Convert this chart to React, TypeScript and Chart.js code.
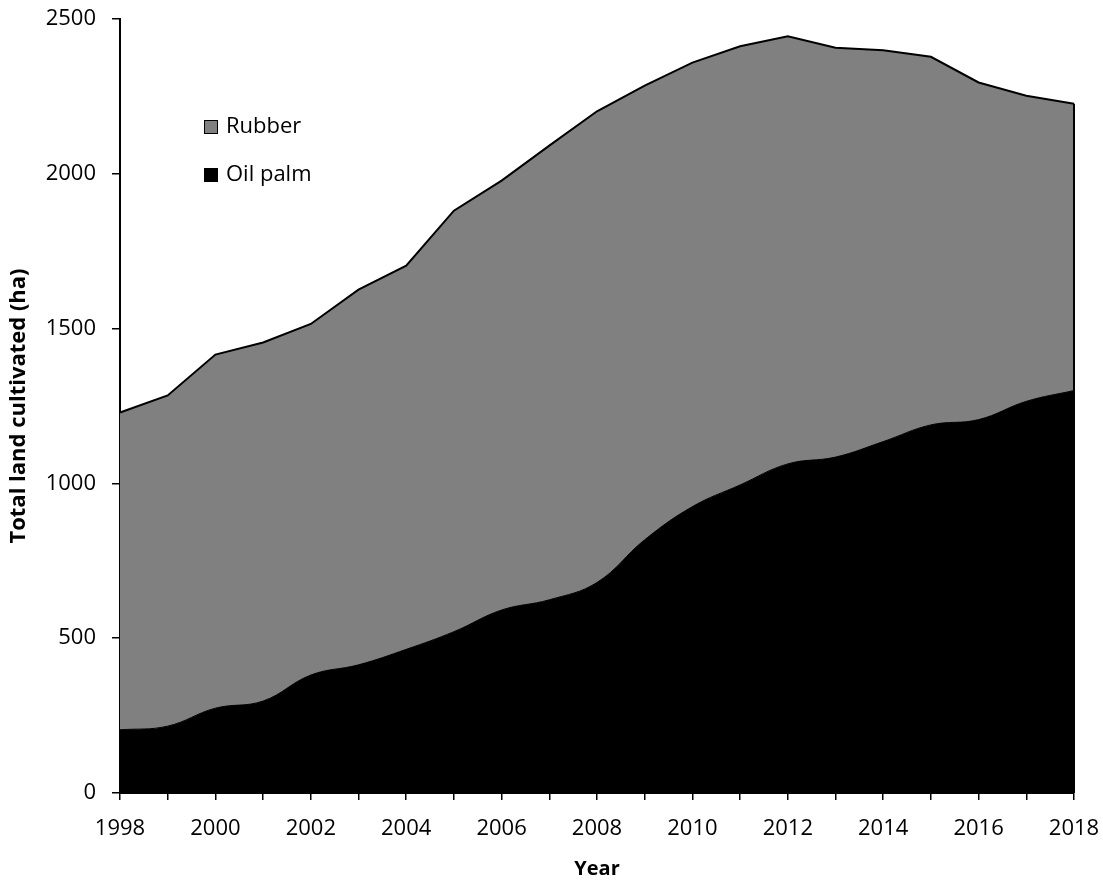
import React, { useEffect, useRef } from 'react';
import { Chart, registerables } from 'chart.js';

Chart.register(...registerables);

const years = ['1998', '1999', '2000', '2001', '2002', '2003', '2004', '2005', '2006', '2007', '2008', '2009', '2010', '2011', '2012', '2013', '2014', '2015', '2016', '2017', '2018'];
const oilPalm = [204, 216, 274, 297, 381, 414, 464, 521, 591, 624, 680, 818, 925, 995, 1063, 1085, 1135, 1189, 1206, 1265, 1300];
const rubber = [1025, 1068, 1142, 1158, 1134, 1212, 1239, 1360, 1387, 1467, 1522, 1467, 1434, 1417, 1381, 1322, 1264, 1189, 1089, 987, 926];
const yMin = 0;
const yMax = 2500;
const yStep = 500;

const FONT = '"Open Sans", "DejaVu Sans", sans-serif';

const legendPlugin = {
  id: 'insideLegend',
  afterDraw(chart: any) {
    const { ctx, chartArea } = chart;
    const ds = chart.data.datasets.slice().reverse();
    const x0 = chartArea.left + 84;
    let y = chartArea.top + 108;
    ctx.save();
    ctx.font = `22px ${FONT}`;
    ctx.textBaseline = 'middle';
    ctx.textAlign = 'left';
    ds.forEach((d: any) => {
      ctx.fillStyle = d.backgroundColor;
      ctx.fillRect(x0, y - 7, 14, 14);
      ctx.strokeStyle = '#000';
      ctx.lineWidth = 1;
      ctx.strokeRect(x0 + 0.5, y - 6.5, 13, 13);
      ctx.fillStyle = '#000';
      ctx.fillText(d.label, x0 + 22, y);
      y += 48;
    });
    ctx.restore();
  },
};

const edgePlugin = {
  id: 'rightEdge',
  afterDatasetsDraw(chart: any) {
    const meta = chart.getDatasetMeta(1);
    const pts = meta.data;
    if (!pts || !pts.length) return;
    const last = pts[pts.length - 1];
    const { ctx, chartArea } = chart;
    ctx.save();
    ctx.strokeStyle = '#000';
    ctx.lineWidth = 2;
    ctx.beginPath();
    ctx.moveTo(last.x, last.y);
    ctx.lineTo(last.x, chartArea.bottom);
    ctx.stroke();
    ctx.restore();
  },
};

export default function App() {
  const ref = useRef<HTMLCanvasElement>(null);
  useEffect(() => {
    document.body.style.margin = '0';
    const chart = new Chart(ref.current as HTMLCanvasElement, {
      type: 'line',
      data: {
        labels: years,
        datasets: [
          {
            label: 'Oil palm',
            data: oilPalm,
            backgroundColor: '#000000',
            borderColor: '#000000',
            borderWidth: 1,
            fill: 'origin',
            pointRadius: 0,
            tension: 0.4,
          },
          {
            label: 'Rubber',
            data: rubber,
            backgroundColor: '#808080',
            borderColor: '#000000',
            borderWidth: 2,
            fill: '-1',
            pointRadius: 0,
            tension: 0,
          },
        ],
      },
      options: {
        responsive: false,
        animation: false,
        layout: { padding: { top: 19, right: 29, left: 0, bottom: 0 } },
        plugins: {
          legend: { display: false },
          tooltip: { enabled: false },
        },
        scales: {
          x: {
            type: 'category',
            offset: false,
            grid: { display: true, drawOnChartArea: false, drawTicks: true, tickLength: 7, color: '#000', lineWidth: 1.5 },
            border: { display: true, color: '#000', width: 2 },
            ticks: {
              autoSkip: false,
              maxRotation: 0,
              color: '#000',
              font: { family: FONT, size: 22 },
              padding: 16,
              callback: (_v: any, i: number) => (i % 2 === 0 ? years[i] : ''),
            },
            title: { display: true, text: 'Year', color: '#000', font: { family: FONT, size: 20, weight: 'bold' }, padding: { top: 0, bottom: 3 } },
            afterFit: (s: any) => { s.height = 91; s.paddingLeft = 0; s.paddingRight = 0; },
          },
          y: {
            stacked: true,
            min: yMin,
            max: yMax,
            grid: { display: true, drawOnChartArea: false, drawTicks: true, tickLength: 8, color: '#000', lineWidth: 1.5 },
            border: { display: true, color: '#000', width: 2 },
            ticks: { stepSize: yStep, color: '#000', font: { family: FONT, size: 22 }, padding: 16, callback: (v: any) => String(v) },
            title: { display: true, text: 'Total land cultivated (ha)', color: '#000', font: { family: FONT, size: 22, weight: 'bold' }, padding: { top: 6, bottom: 0 } },
            afterFit: (s: any) => { s.width = 120; s.paddingTop = 0; s.paddingBottom = 0; },
          },
        },
      },
      plugins: [legendPlugin, edgePlugin],
    });
    return () => chart.destroy();
  }, []);
  return (
    <div style={{ width: 1103, height: 884 }}>
      <canvas ref={ref} width={1103} height={884} style={{ display: 'block' }} />
    </div>
  );
}
